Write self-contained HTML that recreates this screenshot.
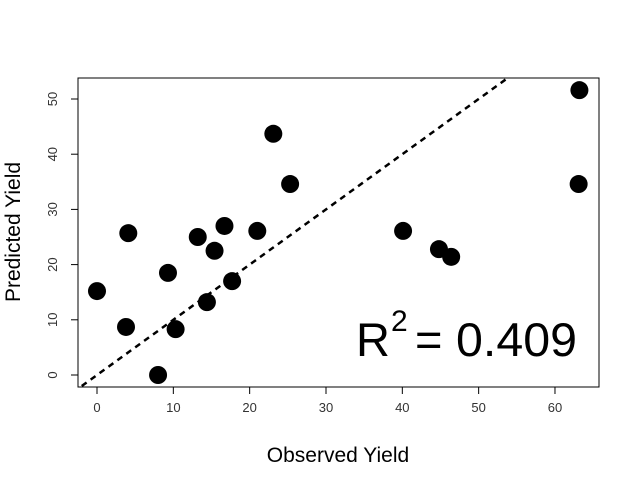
<!DOCTYPE html>
<html><head><meta charset="utf-8"><style>
html,body{margin:0;padding:0;background:#fff;}
svg{display:block;font-family:"Liberation Sans",Arial,sans-serif;}
</style></head><body>
<svg id="chart" width="640" height="485">
<defs><clipPath id="plotclip"><rect x="78" y="78" width="521" height="309"/></clipPath></defs>
<rect x="78" y="78" width="521" height="309" fill="none" stroke="#000" stroke-width="1"/>
<g id="xaxis"></g>
<g id="yaxis"></g>
<line id="refline" stroke="#000" stroke-width="2.5" stroke-dasharray="6,5" clip-path="url(#plotclip)"/>
<g id="points"></g>
<text x="338" y="462" font-size="21" text-anchor="middle">Observed Yield</text>
<text x="20" y="232" font-size="21" text-anchor="middle" transform="rotate(-90 20 232)">Predicted Yield</text>
<g>
<text x="356" y="356" font-size="47">R</text>
<text x="391" y="331" font-size="30">2</text>
<text x="415" y="356" font-size="47">=</text>
<text x="456" y="356" font-size="47" textLength="121" lengthAdjust="spacingAndGlyphs">0.409</text>
</g>
</svg>
<script>
const observed = [0,3.8,4.1,8.0,9.3,10.3,13.2,14.4,15.4,16.7,17.7,21.0,23.1,25.3,40.1,44.8,46.4,63.2,63.1];
const predicted = [15.2,8.7,25.7,0,18.5,8.3,25.0,13.2,22.5,27.0,17.0,26.1,43.7,34.6,26.1,22.8,21.4,51.6,34.6];
const xTicks = [0,10,20,30,40,50,60];
const yTicks = [0,10,20,30,40,50];
const ns = "http://www.w3.org/2000/svg";
function sx(v){return 97 + v*7.633;}
function sy(v){return 375 - v*5.52;}
function mk(tag, attrs, parent){const e=document.createElementNS(ns,tag);for(const k in attrs)e.setAttribute(k,attrs[k]);parent.appendChild(e);return e;}
const xa=document.getElementById('xaxis');
mk('line',{x1:sx(0),x2:sx(60),y1:387,y2:387,stroke:'#000'},xa);
xTicks.forEach(t=>{
  const l=mk('line',{x1:sx(t),x2:sx(t),y1:387,y2:394,stroke:'#000'},xa);
  
  
  const tx=mk('text',{x:sx(t),y:412,'font-size':13,'text-anchor':'middle',fill:'#333'},xa);
  tx.textContent=t;
  
  
});
const ya=document.getElementById('yaxis');
mk('line',{x1:78,x2:78,y1:sy(0),y2:sy(50),stroke:'#000'},ya);
yTicks.forEach(t=>{
  const l=mk('line',{x1:71,x2:78,y1:sy(t),y2:sy(t),stroke:'#000'},ya);
  
  
  const tx=mk('text',{x:57,y:sy(t),'font-size':13,'text-anchor':'middle',fill:'#333',transform:`rotate(-90 57 ${sy(t)})`},ya);
  tx.textContent=t;
  
  
});
const rl=document.getElementById('refline');
rl.setAttribute('x1',sx(-2));rl.setAttribute('y1',sy(-2));
rl.setAttribute('x2',sx(70));rl.setAttribute('y2',sy(70));
const pg=document.getElementById('points');
observed.forEach((o,i)=>{
  const c=mk('circle',{cx:sx(o),cy:sy(predicted[i]),r:9,fill:'#000'},pg);
  
  
});
</script>
</body></html>
